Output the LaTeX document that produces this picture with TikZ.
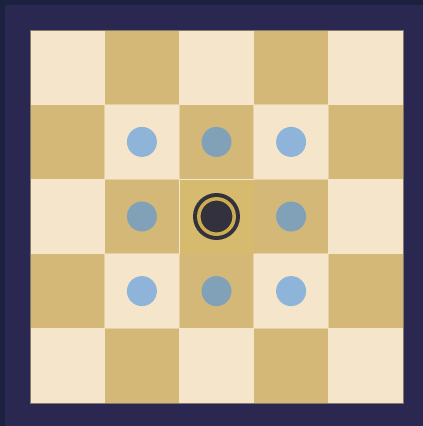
\documentclass[tikz,border=0pt]{standalone}
\usepackage{xcolor}
\usepackage{tikz}
\usetikzlibrary{calc}

\definecolor{outerband}{HTML}{1C2140}
\definecolor{framenavy}{HTML}{2A2850}
\definecolor{cellLight}{HTML}{F5E6CB}
\definecolor{cellDark}{HTML}{D4B877}
\definecolor{cellFocus}{HTML}{D6BA6D}
\definecolor{boardedge}{HTML}{857A6A}
\definecolor{moveblue}{HTML}{4B93E5}
\definecolor{piecedark}{HTML}{33313D}
\definecolor{piecegold}{HTML}{CDAE4E}

\tikzset{
    movedot/.style={fill=moveblue, fill opacity=0.6},
    gridline/.style={draw=cellLight, draw opacity=0.55, line width=1pt}
}

\begin{document}
\begin{tikzpicture}[x=1pt, y=-1pt]

    % =================================================================
    % KHUNG NỀN
    % =================================================================
    \useasboundingbox (0,0) rectangle (423,426);
    \fill[outerband] (0,0) rectangle (423,426);
    \fill[framenavy] (4.5,4.5) rectangle (423,426);

    % =================================================================
    % BÀN CỜ 5x5
    % =================================================================
    \begin{scope}[shift={(30,30)}]
        \def\s{74.6}
        \coordinate (TL) at (0,0);          % Góc trên trái
        \coordinate (BR) at (5*\s,5*\s);    % Góc dưới phải
        \coordinate (C) at (2.5*\s,2.5*\s); % Tâm ô giữa

        % Các ô sáng / tối
        \foreach \i in {0,...,4} {
            \foreach \j in {0,...,4} {
                \pgfmathparse{mod(\i+\j,2)==0 ? "cellLight" : "cellDark"}
                \edef\cellcol{\pgfmathresult}
                \fill[\cellcol] (\i*\s,\j*\s) rectangle ++(\s,\s);
            }
        }

        % Đường kẻ mảnh giữa các ô
        \foreach \k in {1,...,4} {
            \draw[gridline] (\k*\s,0) -- (\k*\s,5*\s);
            \draw[gridline] (0,\k*\s) -- (5*\s,\k*\s);
        }

        % Ô giữa (ô đang chọn) được tô màu vàng
        \fill[cellFocus] (2*\s+0.3,2*\s+0.3) rectangle ++(\s-0.6,\s-0.6);

        % Viền bàn cờ
        \draw[boardedge, line width=1pt] (TL) rectangle (BR);

        % Các điểm có thể đi tới
        \fill[movedot] ($(C)+(-\s,-\s)$) circle (15);
        \fill[movedot] ($(C)+(0,-\s)$) circle (15);
        \fill[movedot] ($(C)+(\s,-\s)$) circle (15);
        \fill[movedot] ($(C)+(-\s,0)$) circle (15);
        \fill[movedot] ($(C)+(\s,0)$) circle (15);
        \fill[movedot] ($(C)+(-\s,\s)$) circle (15);
        \fill[movedot] ($(C)+(0,\s)$) circle (15);
        \fill[movedot] ($(C)+(\s,\s)$) circle (15);

        % Quân cờ ở giữa
        \fill[piecedark] (C) circle (23.5);
        \draw[piecegold, line width=3.5pt] (C) circle (17.7);
    \end{scope}

\end{tikzpicture}
\end{document}
